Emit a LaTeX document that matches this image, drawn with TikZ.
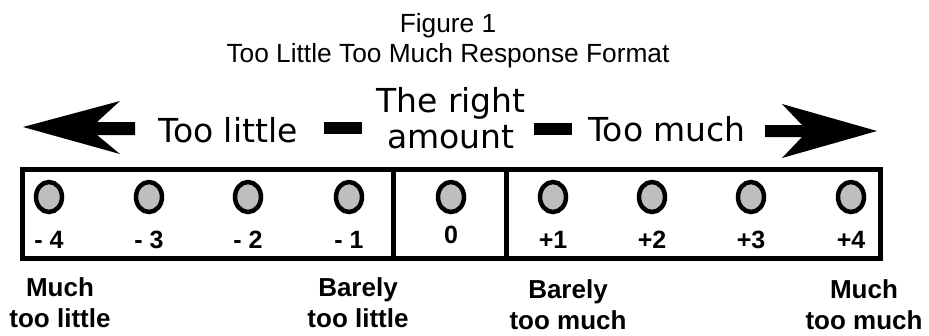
\documentclass[tikz,border=0pt]{standalone}
\usepackage{fontspec}
\setmainfont{Liberation Sans}
\newfontfamily\headfont{DejaVu Sans}
\usetikzlibrary{shapes.geometric}
\definecolor{dotgray}{HTML}{BEBEBE}

\begin{document}
\begin{tikzpicture}[x=1pt, y=-1pt,
    every node/.style={inner sep=0pt},
    title/.style={font=\fontsize{26.3}{30}\selectfont, anchor=base},
    heading/.style={font=\headfont\fontsize{33}{36}\selectfont, anchor=base, align=center},
    bar/.style={fill=black, minimum width=38pt, minimum height=12pt},
    dot/.style={draw, ellipse, line width=4.5pt, fill=dotgray,
                minimum width=26pt, minimum height=30pt},
    score/.style={font=\bfseries\fontsize{25}{28}\selectfont, anchor=base},
    endlabel/.style={font=\bfseries\fontsize{26}{31}\selectfont, align=center, anchor=base},
    frame/.style={line width=5pt},
]
  \useasboundingbox (0,0) rectangle (929,335);
  % title
  \node[title] (fig) at (448,32) {Figure 1};
  \node[title] (caption) at (448,62) {Too Little Too Much Response Format};
  % arrows and headings
  \fill (23,127) -- (120,101) -- (97,122) -- (135,122) -- (135,135)
        -- (97,135) -- (120,154) -- cycle;
  \fill (877,131) -- (782,104) -- (802,125) -- (765,125) -- (765,137)
        -- (802,137) -- (782,158) -- cycle;
  \node[heading] (little) at (228,142) {Too little};
  \node[bar] (barL) at (342.5,128) {};
  \node[heading] (right) at (451,148) {The right\\amount};
  \node[bar] (barR) at (553,129) {};
  \node[heading] (much) at (667,141) {Too much};
  % scale box
  \draw[frame] (22,169) rectangle (880,258);
  \draw[frame] (393,169) -- (393,258);
  \draw[frame] (506,169) -- (506,258);
  \foreach \x/\s [count=\i] in {49/- 4, 149/- 3, 248/- 2, 349/- 1,
                               553/+1, 652/+2, 751/+3, 851/+4} {
    \node[dot] (dot\i) at (\x,197) {};
    \node[score] (num\i) at (\x,248) {\s};
  }
  \node[dot] (dot0) at (451,197) {};
  \node[score] (num0) at (451,243) {0};
  % end labels
  \node[endlabel] (lowend) at (60,327) {Much\\too little};
  \node[endlabel] (lowmid) at (358,327) {Barely\\too little};
  \node[endlabel] (highmid) at (568,329) {Barely\\too much};
  \node[endlabel] (highend) at (864,329) {Much\\too much};
\end{tikzpicture}
\end{document}
